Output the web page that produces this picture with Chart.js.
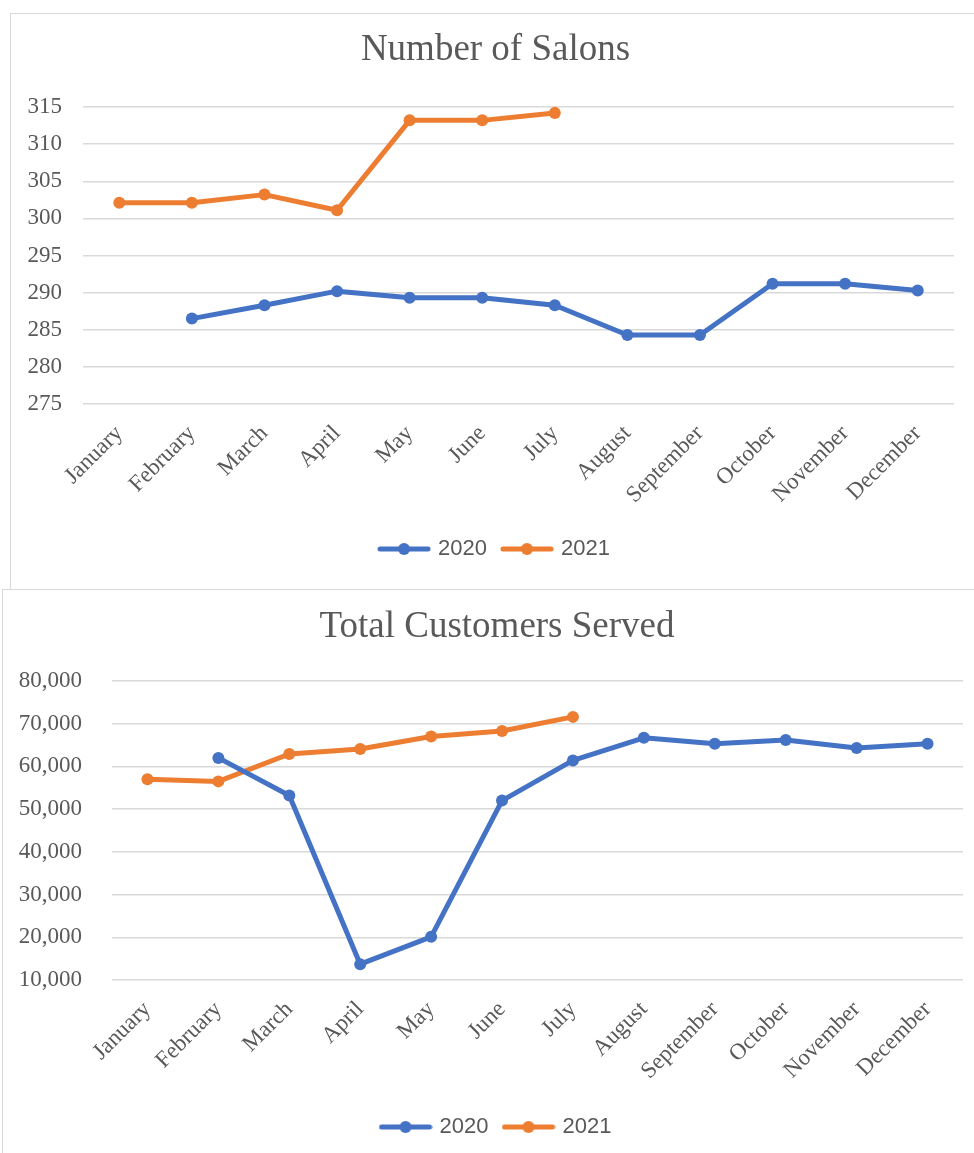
<!DOCTYPE html>
<html><head><meta charset="utf-8">
<script src="https://cdn.jsdelivr.net/npm/chart.js@4.4.1/dist/chart.umd.min.js"></script>
<style>
html,body{margin:0;padding:0;background:#fff;overflow:hidden;width:974px;height:1153px;position:relative;}
.box{position:absolute;border:1.5px solid #d9d9d9;background:#fff;box-sizing:border-box;}
#box1{left:10px;top:13px;width:990px;height:600px;}
#box2{left:2px;top:589px;width:1000px;height:600px;}
.wrap{position:absolute;}
#w1{left:10px;top:13px;width:971px;height:576px;}
#w2{left:2px;top:589px;width:990px;height:564px;}
</style></head>
<body>
<div class="box" id="box1"></div>
<div class="wrap" id="w1"><canvas id="c1"></canvas></div>
<div class="box" id="box2"></div>
<div class="wrap" id="w2"><canvas id="c2"></canvas></div>
<script>
const months = ['January','February','March','April','May','June','July','August','September','October','November','December'];
const seriesNames = ['2020','2021'];
const salons2020 = [null, 286.5, 288.3, 290.2, 289.3, 289.3, 288.3, 284.3, 284.3, 291.2, 291.2, 290.3];
const salons2021 = [302.1, 302.1, 303.2, 301.1, 313.2, 313.2, 314.2, null, null, null, null, null];
const salonTicks = [275, 280, 285, 290, 295, 300, 305, 310, 315];
const customers2020 = [null, 62000, 53200, 13700, 20100, 52000, 61400, 66700, 65300, 66200, 64300, 65300];
const customers2021 = [57000, 56500, 62900, 64100, 67000, 68300, 71600, null, null, null, null, null];
const customerTicks = [10000, 20000, 30000, 40000, 50000, 60000, 70000, 80000];

const BLUE = '#4472C4', ORANGE = '#ED7D31', TEXT = '#595959', GRID = '#d9d9d9';
const SERIF = "'Liberation Serif', 'Times New Roman', serif";
const SANS = "'Liberation Sans', Arial, sans-serif";

function legendIcon(color) {
  const c = document.createElement('canvas');
  c.width = 54; c.height = 14;
  const g = c.getContext('2d');
  g.strokeStyle = color; g.lineWidth = 5; g.lineCap = 'round';
  g.beginPath(); g.moveTo(3, 7); g.lineTo(51, 7); g.stroke();
  g.fillStyle = color; g.beginPath(); g.arc(27, 7, 6, 0, Math.PI * 2); g.fill();
  return c;
}
const icons = [legendIcon(BLUE), legendIcon(ORANGE)];

function build(id, title, a, b, ticks, o) {
  const step = ticks[1] - ticks[0];
  const ds = (label, data, color) => ({
    label, data, borderColor: color, backgroundColor: color,
    borderWidth: 5, pointRadius: 6, pointHoverRadius: 6,
    pointBackgroundColor: color, pointBorderWidth: 0, tension: 0,
    borderCapStyle: 'round', borderJoinStyle: 'round', yAxisID: 'y'
  });
  return new Chart(document.getElementById(id), {
    type: 'line',
    data: { labels: months, datasets: [ds(seriesNames[0], a, BLUE), ds(seriesNames[1], b, ORANGE)] },
    options: {
      responsive: true, maintainAspectRatio: false, animation: false,
      layout: { padding: { left: 0, right: 0, top: 0, bottom: o.padBottom } },
      plugins: {
        tooltip: { enabled: false },
        title: { display: true, text: title, color: TEXT,
          font: { family: SERIF, size: 37, weight: 'normal' },
          padding: { top: o.titleTop, bottom: o.titleBottom } },
        legend: { position: 'bottom',
          labels: { usePointStyle: true, pointStyleWidth: 46, padding: 17, color: TEXT,
            font: { family: SANS, size: 22 },
            generateLabels: (chart) => chart.data.datasets.map((d, i) => ({
              text: d.label, fillStyle: d.borderColor, strokeStyle: d.borderColor,
              lineWidth: 0, pointStyle: icons[i], datasetIndex: i, hidden: false, fontColor: TEXT
            })) } }
      },
      scales: {
        x: {
          offset: true,
          grid: { display: false, drawTicks: false, offset: true }, border: { display: false },
          ticks: { autoSkip: false, minRotation: 45, maxRotation: 45, padding: o.xPad, color: TEXT,
            font: { family: SERIF, size: 23 } },
          afterFit: (s) => { s.height = o.xHeight; }
        },
        y: {
          position: 'left', min: ticks[0], max: ticks[ticks.length - 1],
          grid: { color: GRID, lineWidth: 1.5, drawTicks: false }, border: { display: false },
          ticks: { stepSize: step, padding: o.yPad, color: TEXT, font: { family: SERIF, size: 23 },
            callback: (v) => o.fmt ? Number(v).toLocaleString('en-US') : v },
          afterFit: (s) => { s.width = o.yWidth; }
        },
        yr: {
          position: 'right', display: true, grid: { display: false, drawTicks: false },
          border: { display: false }, ticks: { display: false },
          afterFit: (s) => { s.width = o.rightWidth; }
        }
      }
    }
  });
}

build('c1', 'Number of Salons', salons2020, salons2021, salonTicks,
  { yWidth: 73, yPad: 21, rightWidth: 27, titleTop: 14.8, titleBottom: 34.8, xHeight: 117, padBottom: 19, xPad: 16, fmt: false });
build('c2', 'Total Customers Served', customers2020, customers2021, customerTicks,
  { yWidth: 110, yPad: 30, rightWidth: 29, titleTop: 15.8, titleBottom: 31.8, xHeight: 119, padBottom: 5, xPad: 16, fmt: true });
</script>
</body></html>
